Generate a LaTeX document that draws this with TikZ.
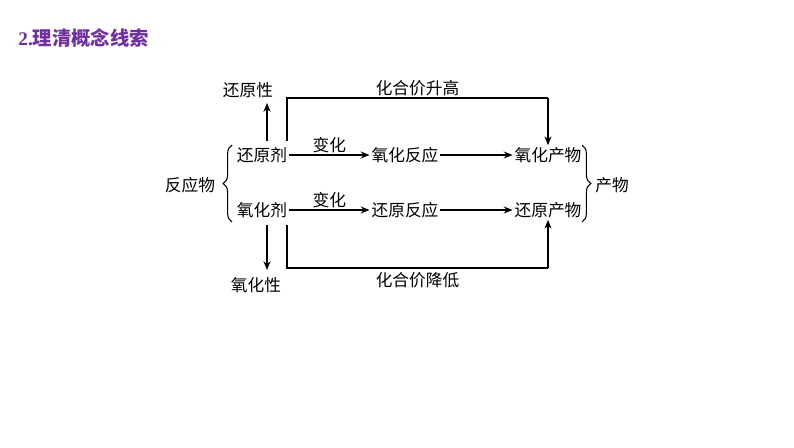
\documentclass[tikz,border=0pt]{standalone}
\usepackage{fontspec}
\setmainfont{Liberation Serif}
\newfontfamily\cjk{Noto Sans CJK SC}
\usetikzlibrary{positioning, arrows.meta, decorations.pathreplacing}
\definecolor{titlepurple}{RGB}{112,48,160}

\tikzset{
  term/.style={font=\cjk\fontsize{9.5}{11}\selectfont, inner sep=1pt},
  flow/.style={-{Stealth[length=5pt,width=4pt]}, line width=0.6pt},
  loopline/.style={line width=0.6pt},
}

\begin{document}
\begin{tikzpicture}[x=0.02cm, y=-0.02cm]
    \useasboundingbox (0,0) rectangle (794,447);
    % title
    \node[anchor=west, text=titlepurple, font=\bfseries\fontsize{11}{13}\selectfont, inner sep=0pt]
        (title) at (18,38) {2.{\cjk 理清概念线索}};

    % terms
    \node[term] (huanyuanji) at (262,155) {还原剂};
    \node[term] (yanghuaji) at (262,210) {氧化剂};
    \node[term] (yhfy) at (405,155) {氧化反应};
    \node[term] (hyfy) at (405,210) {还原反应};
    \node[term] (yhcw) at (548,155) {氧化产物};
    \node[term] (hycw) at (548,210) {还原产物};
    \node[term] (hyx) at (248,90) {还原性};
    \node[term] (yhx) at (256,285) {氧化性};
    \node[term] (fyw) at (190,185) {反应物};
    \node[term] (cw) at (612,185) {产物};

    % changes
    \draw[flow] (huanyuanji.east) -- (yhfy.west) node[midway, above, term] {变化};
    \draw[flow] (yanghuaji.east) -- (hyfy.west) node[midway, above, term] {变化};
    \draw[flow] (yhfy.east) -- (yhcw.west);
    \draw[flow] (hyfy.east) -- (hycw.west);

    % properties
    \coordinate (upA) at (267,141);
    \coordinate (dnA) at (267,225);
    \draw[flow] (upA) -- (267,103);
    \draw[flow] (dnA) -- (267,270);

    % valence loops
    \draw[loopline] (287,141) -- (287,98) -- (548,98)
        node[midway, above, term] {化合价升高};
    \draw[flow] (548,98) -- (yhcw.north);
    \draw[loopline] (287,225) -- (287,268) -- (548,268)
        node[midway, below, term, yshift=-1pt] {化合价降低};
    \draw[flow] (548,268) -- (hycw.south);

    % braces
    \draw[decorate, decoration={brace, amplitude=5pt}, line width=0.6pt]
        (232,222) -- (232,145);
    \draw[decorate, decoration={brace, amplitude=5pt}, line width=0.6pt]
        (582,145) -- (582,222);
\end{tikzpicture}
\end{document}
